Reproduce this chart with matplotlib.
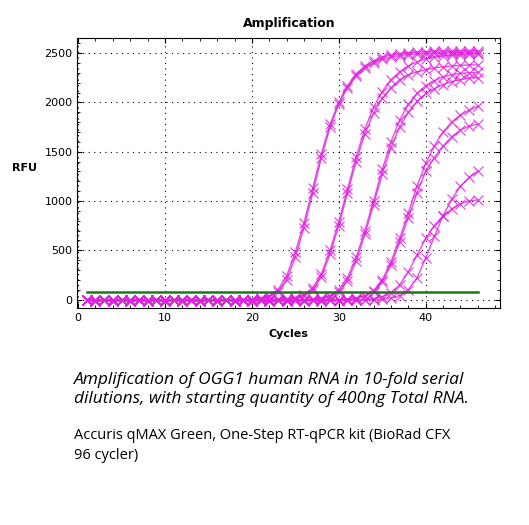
import matplotlib
matplotlib.use("Agg")
import matplotlib.pyplot as plt
from matplotlib.ticker import MultipleLocator

cycles = list(range(1, 47))

# RFU per cycle (cycles 1..46)
a1 = [0, -5, 0, -5, 0, -5, 0, -5, 0, -5, 0, -5, 0, -5, 0, -5, 0, -5, 0, 5,
      15, 40, 100, 240, 480, 780, 1130, 1480, 1780, 2000, 2170, 2290, 2370, 2420, 2460, 2480,
      2495, 2505, 2510, 2515, 2520, 2520, 2520, 2525, 2525, 2525]
a2 = [-10, -15, -10, -15, -10, -15, -10, -15, -10, -15, -10, -15, -10, -15, -10, -15, -10, -15, -10, 0,
      10, 30, 80, 200, 430, 730, 1080, 1440, 1750, 1980, 2150, 2270, 2350, 2400, 2440, 2460,
      2475, 2485, 2490, 2495, 2500, 2500, 2505, 2505, 2505, 2505]
b1 = [0, -5, 0, -5, 0, -5, 0, -5, 0, -5, 0, -5, 0, -5, 0, -5, 0, -5, 0, -5,
      0, 0, 5, 10, 20, 50, 120, 260, 500, 790, 1120, 1450, 1730, 1950, 2110, 2230,
      2310, 2370, 2410, 2440, 2460, 2470, 2480, 2485, 2490, 2495]
b2 = [-10, -15, -10, -15, -10, -15, -10, -15, -10, -15, -10, -15, -10, -15, -10, -15, -10, -15, -10, -15,
      -10, -10, 0, 5, 15, 40, 100, 230, 460, 750, 1080, 1400, 1680, 1890, 2040, 2150,
      2230, 2280, 2310, 2330, 2350, 2360, 2370, 2375, 2380, 2380]
c1 = [0, -5, 0, -5, 0, -5, 0, -5, 0, -5, 0, -5, 0, -5, 0, -5, 0, -5, 0, -5,
      0, -5, 0, -5, 0, 0, 5, 15, 40, 100, 220, 430, 700, 1000, 1320, 1600,
      1820, 1980, 2090, 2170, 2220, 2260, 2280, 2295, 2300, 2305]
c2 = [-10, -15, -10, -15, -10, -15, -10, -15, -10, -15, -10, -15, -10, -15, -10, -15, -10, -15, -10, -15,
      -10, -15, -10, -15, -10, -5, 0, 10, 30, 80, 190, 390, 660, 960, 1270, 1540,
      1750, 1900, 2010, 2090, 2140, 2180, 2210, 2230, 2245, 2250]
d1 = [0, -5, 0, -5, 0, -5, 0, -5, 0, -5, 0, -5, 0, -5, 0, -5, 0, -5, 0, -5,
      0, -5, 0, -5, 0, -5, 0, -5, 0, 0, 5, 15, 40, 90, 200, 380,
      620, 880, 1150, 1380, 1560, 1700, 1800, 1870, 1920, 1960]
d2 = [-10, -15, -10, -15, -10, -15, -10, -15, -10, -15, -10, -15, -10, -15, -10, -15, -10, -15, -10, -15,
      -10, -15, -10, -15, -10, -15, -10, -15, -10, -5, 0, 10, 35, 80, 180, 350,
      580, 830, 1080, 1300, 1440, 1560, 1650, 1720, 1760, 1780]
e1 = [0, -5, 0, -5, 0, -5, 0, -5, 0, -5, 0, -5, 0, -5, 0, -5, 0, -5, 0, -5,
      0, -5, 0, -5, 0, -5, 0, -5, 0, -5, 0, -5, 0, 0, 5, 15,
      40, 100, 220, 420, 640, 850, 1020, 1150, 1240, 1300]
e2 = [-10, -15, -10, -15, -10, -15, -10, -15, -10, -15, -10, -15, -10, -15, -10, -15, -10, -15, -10, -15,
      -10, -15, -10, -15, -10, -15, -10, -15, -10, -15, -10, -5, 0, 10, 30, 70,
      150, 280, 450, 620, 750, 850, 920, 970, 1000, 1010]
series = [a1, a2, b1, b2, c1, c2, d1, d2, e1, e2]

threshold = 75
thr_x = [1, 46]

fig = plt.figure(figsize=(5.29, 5.25), dpi=100)
ax = fig.add_axes([0.146, 0.413, 0.8, 0.515])

for s in series:
    ax.plot(cycles, s, color="#e020e0", lw=1.0, marker="x", ms=6.5, mew=0.9, alpha=0.8)
ax.plot(thr_x, [threshold, threshold], color="#1a7a1a", lw=1.8)

ax.set_xlim(-0.1, 48.6)
ax.set_ylim(-88, 2655)
ax.xaxis.set_major_locator(MultipleLocator(10))
ax.xaxis.set_minor_locator(MultipleLocator(2))
ax.yaxis.set_major_locator(MultipleLocator(500))
ax.yaxis.set_minor_locator(MultipleLocator(100))
ax.tick_params(which="both", direction="in", top=True, right=True, labelsize=8)
ax.grid(True, which="major", color="black", linestyle=(0, (1, 4)), lw=0.8)

ax.set_title("Amplification", fontsize=9, fontweight="bold", pad=8)
ax.set_xlabel("Cycles", fontsize=8, fontweight="bold")
ax.set_ylabel("RFU", fontsize=8, fontweight="bold", rotation=0, labelpad=14)

fig.text(0.14, 0.259, "Amplification of OGG1 human RNA in 10-fold serial\n"
         "dilutions, with starting quantity of 400ng Total RNA.",
         fontsize=12.5, style="italic", family="Open Sans", va="center", linespacing=1.25)
fig.text(0.14, 0.151, "Accuris qMAX Green, One-Step RT-qPCR kit (BioRad CFX\n96 cycler)",
         fontsize=10.5, family="Open Sans", va="center", linespacing=1.45)

fig.savefig("out.png", dpi=100)
